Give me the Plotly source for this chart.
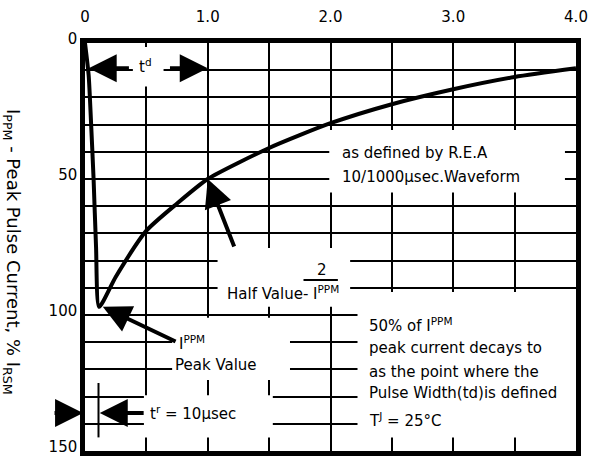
import plotly.graph_objects as go

# ---- data ----
time_ms = [0, 0.03, 0.05, 0.07, 0.09, 0.115, 0.25, 0.5, 0.75, 1.0, 1.5, 2.0, 2.5, 3.0, 3.5, 4.0]
current_pct = [0, 12, 30, 50, 75, 97, 86, 69, 59, 50, 38.6, 29.5, 22.5, 17, 12.5, 9.3]

x_tickvals = [0, 0.5, 1.0, 1.5, 2.0, 2.5, 3.0, 3.5, 4.0]
x_ticktext = ["0", "", "1.0", "", "2.0", "", "3.0", "", "4.0"]
y_tickvals = [0, 10, 20, 30, 40, 50, 60, 70, 80, 90, 100, 110, 120, 130, 140, 150]
y_ticktext = ["0", "", "", "", "", "50", "", "", "", "", "100", "", "", "", "", "150"]

half_value = 50
peak_time, peak_value = 0.115, 97
rise_marker = 0.11

FONT = "DejaVu Sans"

fig = go.Figure()
fig.add_trace(go.Scatter(
    x=time_ms, y=current_pct, mode="lines",
    line=dict(color="black", width=4, shape="spline", smoothing=0.6),
    hoverinfo="skip",
))

axis_common = dict(
    showgrid=True, gridcolor="black", gridwidth=1.6,
    showline=True, linecolor="black", linewidth=4.5, mirror=True,
    ticks="", zeroline=False, fixedrange=True, automargin=False,
    ticklabeloverflow="allow",
    tickfont=dict(family=FONT, size=15, color="black"),
)
fig.update_xaxes(range=[0, 4], side="top", tickmode="array", ticklabelstandoff=10,
                 tickvals=x_tickvals, ticktext=x_ticktext, **axis_common)
fig.update_yaxes(range=[150, 0], tickmode="array", ticklabelshift=4,
                 tickvals=y_tickvals, ticktext=y_ticktext, **axis_common)

# white panels behind the text blocks (interrupt the grid)
masks = [
    (0.39, 0.64, 1.5, 16),      # t_d label
    (1.99, 3.91, 32, 55),       # waveform text
    (1.08, 2.16, 75.4, 97),     # half value text
    (0.71, 1.67, 101, 123.9),   # peak value text
    (0.48, 1.53, 129.5, 145),   # t_r text
    (2.22, 4.0, 91.5, 145),     # conditions box
]
shapes = []
for x0, x1, y0, y1 in masks:
    shapes.append(dict(type="rect", xref="x", yref="y", x0=x0, x1=x1, y0=y0, y1=y1,
                       fillcolor="white", line=dict(width=0), layer="between"))
# rise-time marker and fraction bar
shapes.append(dict(type="line", xref="x", yref="y", x0=rise_marker, x1=rise_marker,
                   y0=125, y1=145, line=dict(color="black", width=2)))
shapes.append(dict(type="line", xref="x", yref="y", x0=1.78, x1=2.06,
                   y0=87.1, y1=87.1, line=dict(color="black", width=2)))

ann = []
def txt(x, y, s, xanchor="left", size=15):
    ann.append(dict(x=x, y=y, xref="x", yref="y", text=s, showarrow=False,
                    xanchor=xanchor, yanchor="middle",
                    font=dict(family=FONT, size=size, color="black")))

def arrow(x, y, ax, ay):
    ann.append(dict(x=x, y=y, ax=ax, ay=ay, xref="x", yref="y", axref="x", ayref="y",
                    text="", showarrow=True, arrowhead=2, arrowsize=1.4,
                    arrowwidth=4, arrowcolor="black", standoff=0, startstandoff=0))

txt(0.49, 8.5, "t<sup>d</sup>", xanchor="center")
txt(2.08, 40.4, "as defined by R.E.A")
txt(2.08, 49.3, "10/1000μsec.Waveform")
txt(1.93, 83.5, "2", xanchor="center")
txt(1.14, 92, "Half Value- I<sup>PPM</sup>")
txt(0.75, 110.3, "I<sup>PPM</sup>")
txt(0.72, 118.4, "Peak Value")
txt(0.51, 136, "t<sup>r</sup> = 10μsec")
txt(2.30, 103.7, "50% of I<sup>PPM</sup>")
txt(2.30, 112.1, "peak current decays to")
txt(2.30, 121, "as the point where the")
txt(2.30, 128.7, "Pulse Width(td)is defined")
txt(2.30, 138.6, "T<sup>J</sup> = 25°C")

arrow(0.03, 9.3, 0.37, 9.3)
arrow(1.0, 9.3, 0.68, 9.3)
arrow(1.0, half_value, 1.22, 75.4)
arrow(peak_time + 0.03, peak_value, 0.75, 110)
arrow(0.12, 136, 0.49, 136)
# outer arrow pointing at the left border (outside the plotting range)
ann.append(dict(x=-0.004, y=136, xref="paper", yref="y", ax=-30, ay=0,
                text="", showarrow=True, arrowhead=2, arrowsize=1.4,
                arrowwidth=4, arrowcolor="black", standoff=0, startstandoff=0))

ann.append(dict(x=-0.1487, y=0.4877, xref="paper", yref="paper",
                text="I<sub>PPM</sub> - Peak Pulse Current, % I<sub>RSM</sub>",
                showarrow=False, textangle=90, xanchor="center", yanchor="middle",
                font=dict(family=FONT, size=18, color="black")))

fig.update_layout(
    width=596, height=459,
    margin=dict(l=85, r=20, t=43, b=8, pad=0),
    plot_bgcolor="white", paper_bgcolor="white",
    showlegend=False, shapes=shapes, annotations=ann,
    font=dict(family=FONT, size=15, color="black"),
)

fig.write_html("out.html", config={"displayModeBar": False},
               post_script="document.body.style.margin='0';")
